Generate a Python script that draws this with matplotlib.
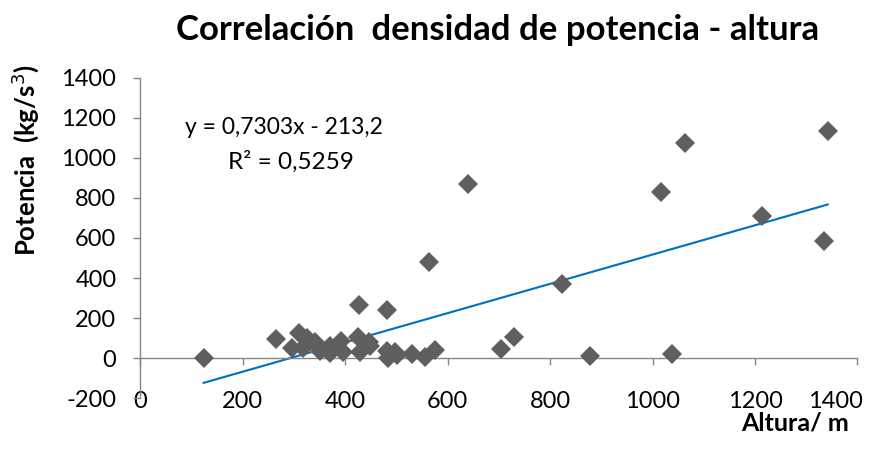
import matplotlib
matplotlib.use("Agg")
import matplotlib.pyplot as plt
import matplotlib.transforms as mtransforms
import numpy as np

plt.rcParams['font.family'] = ['Lato', 'DejaVu Sans']
plt.rcParams['axes.unicode_minus'] = False

# Data
altura = [124, 265, 310, 296, 319, 325, 341, 351, 371, 371, 393, 396, 426, 429,
          446, 449, 428, 481, 481, 484, 497, 501, 530, 556, 575, 564, 640, 704,
          730, 823, 879, 1016, 1038, 1063, 1214, 1334, 1342]
potencia = [0, 95, 125, 50, 50, 100, 80, 35, 25, 60, 88, 33, 105, 30,
            80, 60, 266, 241, 38, 0, 30, 16, 20, 5, 41, 479, 869, 46,
            108, 369, 13, 831, 21, 1074, 710, 585, 1134]
slope = 0.7303
intercept = -213.2
eq_text = "y = 0,7303x - 213,2"
r2_text = "R² = 0,5259"
x_ticks = [0, 200, 400, 600, 800, 1000, 1200, 1400]
y_ticks = [-200, 0, 200, 400, 600, 800, 1000, 1200, 1400]

fig = plt.figure(figsize=(8.82, 4.61), dpi=100)
ax = fig.add_axes([140/882, 1-398.4/461, (857.5-140)/882, (398.4-77.5)/461])
ax.set_xlim(0, 1400)
ax.set_ylim(-200, 1400)

grey = '#868686'
for s in ['top', 'right']:
    ax.spines[s].set_visible(False)
ax.spines['left'].set_position(('data', 0))
ax.spines['bottom'].set_position(('data', 0))
ax.spines['left'].set_color(grey)
ax.spines['bottom'].set_color(grey)
ax.spines['left'].set_linewidth(1.0)
ax.spines['bottom'].set_linewidth(1.0)

ax.set_xticks(x_ticks)
ax.set_yticks(y_ticks)
ax.tick_params(axis='x', direction='out', length=5, width=1, color=grey,
               labelsize=17, pad=18.5)
ax.tick_params(axis='y', direction='out', length=5, width=1, color=grey,
               labelsize=17, pad=12)
# shift the last x tick label left so it stays inside the figure
last_tick = ax.xaxis.get_major_ticks()[-1]
last_tick.label1.set_transform(last_tick.label1.get_transform() +
                               mtransforms.ScaledTranslation(-22/100, 0, fig.dpi_scale_trans))

xs = np.array([min(altura), max(altura)])
ax.plot(xs, slope*xs + intercept, color='#0070C0', lw=1.5, zorder=2)
ax.plot(altura, potencia, linestyle='none', marker='D', markersize=10.5,
        color='#5f5f5f', markeredgewidth=0, zorder=3, clip_on=False)

ax.text(280, 1149, eq_text, fontsize=16.5, ha='center', va='center')
ax.text(295, 979, r2_text, fontsize=17.5, ha='center', va='center')

fig.text(498/882, 1-30/461, "Correlación  densidad de potencia - altura",
         fontsize=25, fontweight='bold', ha='center', va='center')
fig.text(25/882, 1-160/461, "Potencia  (kg/s$^{3}$)", rotation=90,
         fontsize=18.5, fontweight='bold', ha='center', va='center')
fig.text(795/882, 1-423/461, "Altura/ m", fontsize=18, fontweight='bold',
         ha='center', va='center')

fig.savefig("out.png", dpi=100)
